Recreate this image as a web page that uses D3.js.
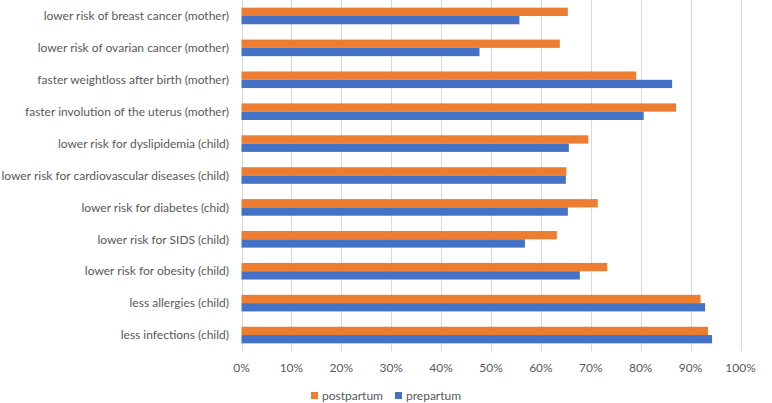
<!DOCTYPE html>
<html><head><meta charset="utf-8">
<script src="https://cdn.jsdelivr.net/npm/d3@7"></script>
<style>body{margin:0;background:#fff}svg{display:block}text{font-family:Lato,"Open Sans",sans-serif;fill:#595959}</style>
</head><body><svg id="c" width="772" height="403"></svg>
<script>
const categories = ["lower risk of breast cancer (mother)","lower risk of ovarian cancer (mother)","faster weightloss after birth (mother)","faster involution of the uterus (mother)","lower risk for dyslipidemia (child)","lower risk for cardiovascular diseases (child)","lower risk for diabetes (chid)","lower risk for SIDS (child)","lower risk for obesity (child)","less allergies (child)","less infections (child)"];
const postpartum = [65.4,63.8,79.1,87.1,69.5,65.1,71.4,63.2,73.3,92.0,93.5];
const prepartum = [55.7,47.7,86.3,80.6,65.6,65.0,65.4,56.8,67.8,92.9,94.3];
const seriesNames = ["postpartum","prepartum"];
const colors = ["#ED7D31","#4472C4"];
const ticks = [0,10,20,30,40,50,60,70,80,90,100];

(function(){
const svg = d3.select("#c");
const mLeft = 241.5, mRight = 740.5, mTop = 0, mBottom = 351;
const x = d3.scaleLinear().domain([0,100]).range([mLeft,mRight]);
const y = d3.scaleBand().domain(categories).range([mTop,mBottom]).paddingInner(0.48).paddingOuter(0.24);
const ys = d3.scaleBand().domain(seriesNames).range([0,y.bandwidth()]);

svg.append("g").selectAll("line").data(ticks).join("line")
  .attr("x1",d=>Math.round(x(d))+0.5).attr("x2",d=>Math.round(x(d))+0.5)
  .attr("y1",mTop).attr("y2",mBottom).attr("stroke","#d9d9d9").attr("stroke-width",1);

const data = [postpartum, prepartum];
data.forEach((vals,si)=>{
  svg.append("g").selectAll("rect").data(vals).join("rect")
    .attr("x",x(0)).attr("y",(d,i)=>y(categories[i])+ys(seriesNames[si]))
    .attr("width",d=>x(d)-x(0)).attr("height",ys.bandwidth())
    .attr("fill",colors[si]);
});

svg.append("g").selectAll("text").data(categories).join("text")
  .attr("x",229).attr("y",d=>y(d)+y.bandwidth()/2).attr("dy","0.35em")
  .attr("text-anchor","end").attr("font-size",12).text(d=>d);

svg.append("g").selectAll("text").data(ticks).join("text")
  .attr("x",d=>x(d)).attr("y",368).attr("dy","0.35em")
  .attr("text-anchor","middle").attr("font-size",12).text(d=>d+"%");

const lg = svg.append("g");
const lx = [311,395];
seriesNames.forEach((s,i)=>{
  lg.append("rect").attr("x",lx[i]).attr("y",392).attr("width",7).attr("height",7).attr("fill",colors[i]);
  lg.append("text").attr("x",lx[i]+11).attr("y",396).attr("dy","0.35em").attr("font-size",12).text(s);
});
})();
</script></body></html>
